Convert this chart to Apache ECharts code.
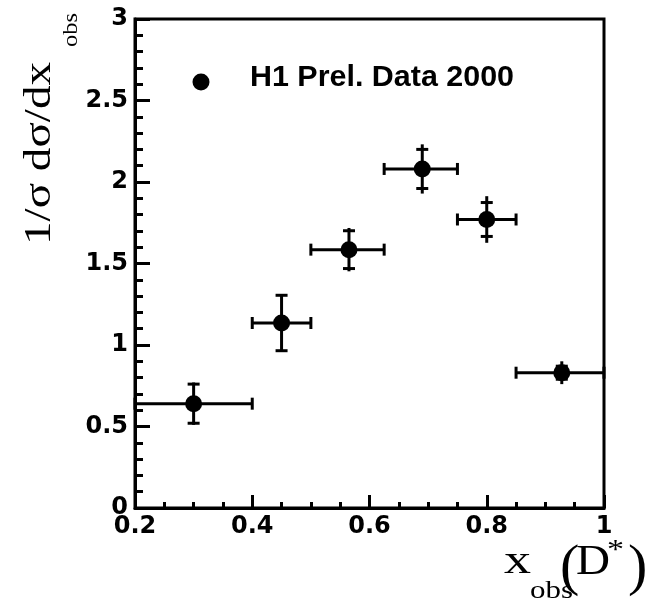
<!DOCTYPE html>
<html><head><meta charset="utf-8">
<script src="https://cdn.jsdelivr.net/npm/echarts@6/dist/echarts.min.js"></script>
<style>html,body{margin:0;padding:0;background:#fff}#c{width:651px;height:601px}</style>
</head><body><div id="c"></div>
<script>
// ---- data ----
const xCenter = [0.30, 0.45, 0.565, 0.69, 0.80, 0.928];
const xLow    = [0.20, 0.40, 0.50, 0.625, 0.75, 0.85];
const xHigh   = [0.40, 0.50, 0.625, 0.75, 0.85, 1.00];
const yValue  = [0.64, 1.135, 1.585, 2.08, 1.77, 0.83];
const yStatErr = [0.12, 0.17, 0.116, 0.12, 0.104, 0.04];
const yTotErr  = [0.13, 0.17, 0.133, 0.151, 0.143, 0.07];
const legendText = 'H1 Prel. Data 2000';
const xTickValues = [0.2, 0.4, 0.6, 0.8, 1];
const yTickValues = [0, 0.5, 1, 1.5, 2, 2.5, 3];

const chart = echarts.init(document.getElementById('c'), null, {renderer: 'canvas'});
const pts = xCenter.map((x, i) => [x, yValue[i]]);
const errData = xCenter.map((x, i) => [x, yValue[i], xLow[i], xHigh[i], yStatErr[i], yTotErr[i]]);
const labelFont = {color: '#000', fontFamily: '"DejaVu Sans", sans-serif', fontWeight: 'bold', fontSize: 24};
const blk = {color: '#000', width: 3};

// text helper: stretched text placed by baseline
const mctx = document.createElement('canvas').getContext('2d');
function measure(str, font) { mctx.font = font; return mctx.measureText(str).width; }
const SERIF = '"Liberation Serif", "Times New Roman", serif';
function txt(str, fs, left, baseline, width, opts) {
  opts = opts || {};
  const font = (opts.bold ? 'bold ' : '') + fs + 'px ' + (opts.family || SERIF);
  const sx = width ? width / measure(str, font) : 1;
  const off = 0.305 * fs; // middle -> alphabetic baseline
  if (opts.rot) {
    return {type: 'text', x: baseline - off, y: left, rotation: Math.PI / 2, scaleX: sx,
      style: {text: str, font: font, fill: '#000', align: 'left', verticalAlign: 'middle'}};
  }
  return {type: 'text', x: left, y: baseline - off, scaleX: sx,
    style: {text: str, font: font, fill: '#000', align: 'left', verticalAlign: 'middle'}};
}

chart.setOption({
  animation: false,
  backgroundColor: '#fff',
  grid: {left: 135, right: 47, top: 19, bottom: 93, containLabel: false, outerBoundsMode: 'none',
         show: true, borderColor: '#000', borderWidth: 3, backgroundColor: 'transparent'},
  xAxis: {
    type: 'value', min: xTickValues[0], max: xTickValues[xTickValues.length - 1], interval: 0.2,
    axisLine: {show: true, onZero: false, lineStyle: blk},
    axisTick: {show: true, inside: true, length: 13, lineStyle: blk},
    minorTick: {show: true, splitNumber: 4, length: 6, lineStyle: blk},
    splitLine: {show: false},
    axisLabel: Object.assign({margin: 7, showMinLabel: true, showMaxLabel: true, hideOverlap: false,
      formatter: v => String(+v.toFixed(2))}, labelFont)
  },
  yAxis: {
    type: 'value', min: yTickValues[0], max: yTickValues[yTickValues.length - 1], interval: 0.5,
    axisLine: {show: true, onZero: false, lineStyle: blk},
    axisTick: {show: true, inside: true, length: 15, lineStyle: blk},
    minorTick: {show: true, splitNumber: 5, length: 8, lineStyle: blk},
    splitLine: {show: false},
    axisLabel: Object.assign({margin: 7, showMinLabel: true, showMaxLabel: true, hideOverlap: false,
      formatter: v => String(+v.toFixed(2))}, labelFont)
  },
  series: [
    {
      type: 'custom', clip: false, data: errData,
      encode: {x: [0, 2, 3], y: 1},
      renderItem: function (params, api) {
        const xc = api.value(0), y = api.value(1), xl = api.value(2), xh = api.value(3);
        const se = api.value(4), te = api.value(5);
        const pL = api.coord([xl, y]), pH = api.coord([xh, y]);
        const pTs = api.coord([xc, y + se]), pBs = api.coord([xc, y - se]);
        const pTt = api.coord([xc, y + te]), pBt = api.coord([xc, y - te]);
        const c = 6;
        const st = {stroke: '#000', lineWidth: 3, fill: null};
        const L = (x1, y1, x2, y2) => ({type: 'line', shape: {x1, y1, x2, y2}, style: st});
        return {type: 'group', children: [
          L(pL[0], pL[1], pH[0], pH[1]),
          L(pL[0], pL[1] - c, pL[0], pL[1] + c),
          L(pH[0], pH[1] - c, pH[0], pH[1] + c),
          L(pTt[0], pTt[1], pBt[0], pBt[1]),
          L(pTs[0] - c, pTs[1], pTs[0] + c, pTs[1]),
          L(pBs[0] - c, pBs[1], pBs[0] + c, pBs[1])
        ]};
      },
      z: 2
    },
    {
      type: 'scatter', data: pts, symbol: 'circle', symbolSize: 17,
      itemStyle: {color: '#000', opacity: 1}, emphasis: {disabled: true}, z: 3
    }
  ],
  graphic: [
    {type: 'circle', shape: {cx: 201, cy: 82, r: 8.5}, style: {fill: '#000'}},
    txt(legendText, 29, 250, 87, 264, {bold: true, family: '"Liberation Sans", Arial, sans-serif'}),
    // y title (rotated)
    txt('1/σ dσ/dx', 37, 245, 52, 183, {rot: true}),
    txt('obs', 21, 47, 78, 34, {rot: true}),
    // x title
    txt('x', 42, 504, 575, 27),
    txt('obs', 25, 530, 599, 43),
    txt('(', 58, 560, 586, 0),
    txt('D', 42, 576, 576, 34),
    txt('*', 28, 607, 559, 17),
    txt(')', 58, 628, 586, 0)
  ]
});
</script></body></html>
